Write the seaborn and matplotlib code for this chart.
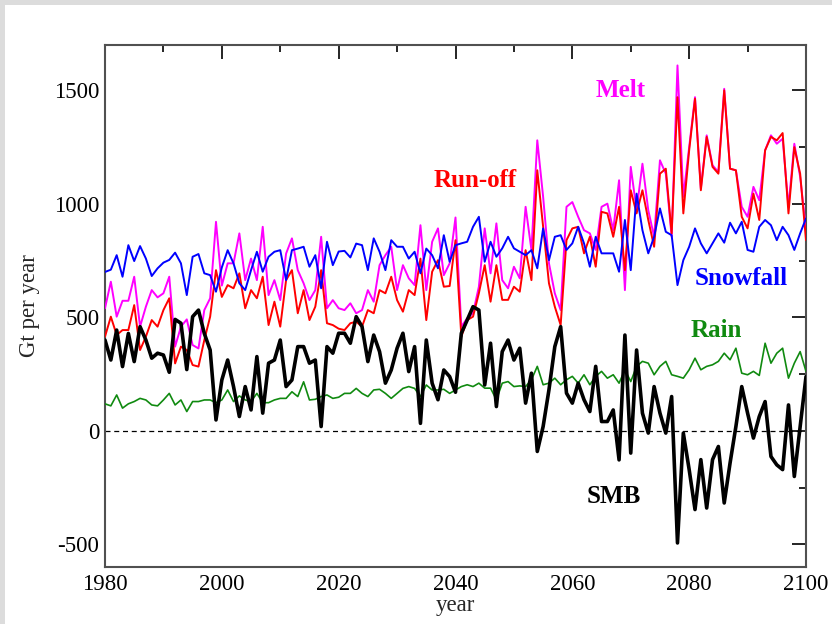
import numpy as np
import pandas as pd
import matplotlib
matplotlib.use("Agg")
import matplotlib.pyplot as plt
from matplotlib.patches import Rectangle
from matplotlib.ticker import MultipleLocator
import seaborn as sns

years = list(range(1980, 2101))

snowfall = [700, 710, 774, 679, 818, 748, 814, 759, 682, 716, 741, 753, 785, 738, 598, 767, 779, 694, 686, 613,
            720, 796, 738, 650, 620, 708, 789, 701, 767, 789, 796, 664, 796, 803, 811, 723, 774, 628, 833, 730,
            790, 793, 764, 825, 818, 708, 848, 789, 708, 840, 811, 811, 759, 789, 694, 803, 774, 716, 862, 745,
            818, 826, 833, 899, 943, 745, 833, 767, 804, 855, 804, 789, 774, 796, 716, 892, 752, 855, 862, 797,
            826, 899, 826, 723, 855, 782, 782, 782, 701, 929, 708, 1045, 884, 782, 855, 980, 877, 862, 642, 752,
            811, 892, 826, 782, 826, 870, 829, 917, 870, 921, 797, 789, 899, 929, 906, 840, 899, 862, 797, 870, 936]

melt = [540, 657, 503, 573, 573, 679, 459, 547, 620, 588, 606, 679, 371, 459, 491, 378, 363, 532, 584, 921,
        640, 738, 738, 870, 664, 759, 664, 899, 598, 664, 576, 781, 848, 708, 650, 576, 620, 855, 540, 576,
        540, 532, 562, 518, 532, 620, 569, 730, 774, 811, 620, 730, 672, 642, 906, 620, 833, 892, 686, 738,
        940, 459, 496, 518, 635, 892, 694, 914, 664, 628, 723, 672, 987, 797, 1280, 1031, 738, 606, 532, 987,
        1008, 943, 884, 870, 797, 987, 1001, 884, 1104, 620, 1163, 972, 1177, 972, 855, 1192, 1133, 855, 1610, 1031,
        1250, 1470, 1068, 1302, 1170, 1140, 1507, 1155, 1148, 987, 943, 1075, 1016, 1236, 1302, 1265, 1287, 987, 1265, 1119, 885]

runoff = [415, 503, 422, 444, 444, 554, 356, 415, 488, 459, 532, 584, 297, 371, 356, 290, 283, 400, 503, 708,
          590, 642, 628, 694, 540, 620, 584, 679, 466, 569, 459, 664, 708, 518, 620, 488, 547, 708, 474, 466,
          450, 444, 474, 481, 459, 532, 518, 620, 606, 679, 576, 525, 620, 598, 759, 488, 701, 752, 635, 638,
          840, 415, 488, 503, 606, 730, 569, 730, 577, 577, 635, 613, 796, 664, 1148, 899, 650, 547, 466, 840,
          892, 899, 782, 855, 723, 965, 958, 855, 987, 708, 1060, 958, 1060, 929, 811, 1133, 1155, 870, 1470, 958,
          1236, 1463, 1060, 1295, 1163, 1133, 1500, 1155, 1148, 943, 892, 1045, 929, 1236, 1295, 1280, 1312, 958, 1250, 1133, 840]

rain = [119, 110, 158, 100, 119, 129, 143, 136, 114, 110, 136, 165, 114, 136, 85, 129, 129, 136, 136, 124,
        136, 180, 129, 154, 136, 129, 165, 124, 124, 136, 143, 143, 172, 151, 216, 136, 139, 151, 158, 143,
        148, 165, 165, 187, 165, 151, 180, 183, 165, 143, 165, 187, 195, 187, 151, 202, 180, 180, 183, 165,
        180, 195, 203, 195, 210, 188, 188, 137, 210, 217, 195, 198, 195, 225, 284, 203, 210, 232, 203, 225,
        240, 210, 247, 203, 240, 262, 232, 247, 210, 269, 217, 284, 306, 298, 247, 284, 306, 247, 240, 232,
        269, 320, 269, 284, 291, 306, 342, 313, 364, 254, 247, 262, 244, 386, 298, 342, 364, 232, 298, 349, 262]

smb = [400, 312, 444, 283, 429, 305, 459, 400, 320, 342, 334, 258, 491, 474, 270, 503, 532, 429, 356, 48,
       224, 312, 195, 63, 195, 92, 327, 78, 298, 312, 400, 195, 224, 371, 371, 298, 312, 19, 371, 342,
       430, 430, 386, 503, 459, 305, 422, 349, 210, 268, 364, 430, 261, 371, 33, 400, 210, 137, 268, 239,
       170, 430, 488, 547, 532, 202, 386, 107, 349, 400, 312, 364, 122, 254, -91, 19, 181, 371, 459, 166,
       122, 210, 137, 85, 284, 41, 41, 92, -128, 422, -98, 356, 78, -10, 195, 78, -10, 151, -494, -10,
       -171, -347, -127, -340, -127, -69, -318, -142, 19, 195, 78, -32, 63, 129, -113, -150, -171, 114, -201, 19, 239]

series_names = ["Melt", "Run-off", "Snowfall", "Rain", "SMB"]
series_values = [melt, runoff, snowfall, rain, smb]
series_colors = ["#ff00ff", "#ff0000", "#0000ff", "#108a10", "#000000"]
series_widths = [1.4, 1.4, 1.4, 1.2, 2.6]

x_ticks = [1980, 2000, 2020, 2040, 2060, 2080, 2100]
y_ticks = [-500, 0, 500, 1000, 1500]

sns.set_style("white")
plt.rcParams["font.family"] = ["Liberation Serif", "DejaVu Serif"]
plt.rcParams["axes.unicode_minus"] = False

fig = plt.figure(figsize=(8.32, 6.24), dpi=100)
fig.patch.set_facecolor("white")
# light grey frame strips (top and left) around the picture
for rect in [(0, 1 - 5 / 624, 1, 5 / 624), (0, 0, 5 / 832, 1)]:
    fig.patches.append(Rectangle(rect[:2], rect[2], rect[3], transform=fig.transFigure,
                                 facecolor="#dcdcdc", edgecolor="none", zorder=0))

ax = fig.add_axes([105 / 832, 1 - 567 / 624, 701 / 832, (567 - 45) / 624])

ax.axhline(0, color="black", lw=0.9, ls=(0, (4, 3)), zorder=1)

df = pd.DataFrame({"year": years})
for name, vals, col, lw in zip(series_names, series_values, series_colors, series_widths):
    df[name] = vals
    sns.lineplot(data=df, x="year", y=name, color=col, lw=lw, ax=ax, legend=False, zorder=3)

ax.set_xlim(1980, 2100)
ax.set_ylim(-600, 1700)
ax.set_xticks(x_ticks)
ax.set_yticks(y_ticks)
ax.xaxis.set_minor_locator(MultipleLocator(10))
ax.yaxis.set_minor_locator(MultipleLocator(250))
ax.tick_params(which="both", direction="in", top=True, right=True, colors="black", labelsize=16.5,
               labelcolor="black")
ax.tick_params(which="major", length=10, width=1.2, pad=4)
ax.tick_params(which="minor", length=5, width=1.2)
ax.tick_params(axis="x", which="major", pad=5)
for sp in ax.spines.values():
    sp.set_color("#505050")
    sp.set_linewidth(1.5)

ax.set_xlabel("year", fontsize=16.5, labelpad=0)
ax.set_ylabel("Gt per year", fontsize=16.5, labelpad=10)

lab = dict(fontsize=18, fontweight="bold", ha="center", va="center")
ax.text(2068.2, 1500, "Melt", color="#ff00ff", **lab)
ax.text(2043.3, 1104, "Run-off", color="#ff0000", **lab)
ax.text(2088.9, 673, "Snowfall", color="#0000ff", **lab)
ax.text(2084.6, 444, "Rain", color="#108a10", **lab)
ax.text(2067.1, -290, "SMB", color="black", **lab)

fig.savefig("out.png", dpi=100)
